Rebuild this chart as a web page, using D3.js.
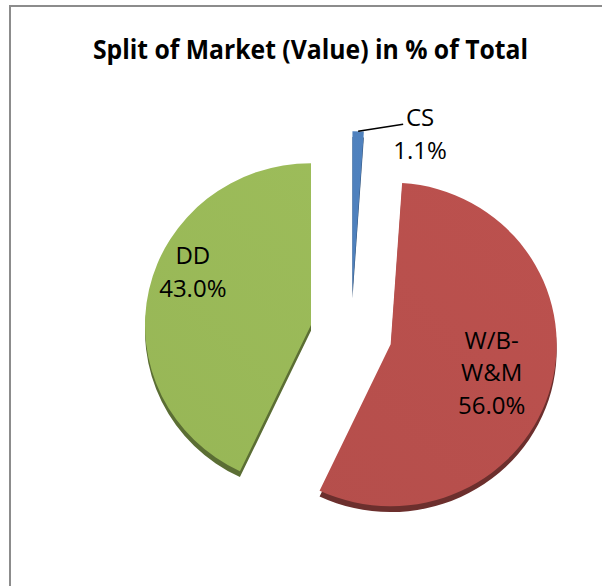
<!DOCTYPE html>
<html>
<head>
  <meta charset="UTF-8">
  <style>
    body { margin: 0; background: #fff; }
    svg { display: block; }
  </style>
</head>
<body>
  <svg id="chart"></svg>
  <script src="https://d3js.org/d3.v7.min.js"></script>
  <script>
    // data
    const categories = ["CS", "W/B-\nW&M", "DD"];
    const values = [1.1, 56.0, 43.0];
    const colors = ["#4f81bd", "#b9504d", "#9bbb59"];

    let width = 602, height = 586;

    let svg = d3.select("#chart")
      .attr("width", width)
      .attr("height", height);

    // chart frame (right/bottom edges fall outside the picture)
    svg.append("rect")
      .attr("x", 10).attr("y", 6)
      .attr("width", 700).attr("height", 700)
      .attr("fill", "#fff")
      .attr("stroke", "#8c8c8c")
      .attr("stroke-width", 2);

    svg.append("text")
      .attr("x", 310.5).attr("y", 59)
      .attr("text-anchor", "middle")
      .attr("font-family", "Open Sans, sans-serif")
      .attr("font-weight", "bold")
      .attr("font-size", 26)
      .attr("textLength", 435)
      .attr("lengthAdjust", "spacingAndGlyphs")
      .attr("fill", "#000")
      .text("Split of Market (Value) in % of Total");

    let cx = 351, cy = 334, r = 166, explode = 41, depth = 6;

    let pie = d3.pie().sort(null).value(d => d);
    let arcs = pie(values);
    let arc = d3.arc().innerRadius(0).outerRadius(r);

    let defs = svg.append("defs");
    arcs.forEach((a, i) => {
      let base = d3.color(colors[i]);
      let g = defs.append("linearGradient")
        .attr("id", "grad" + i)
        .attr("gradientUnits", "userSpaceOnUse")
        .attr("x1", -r).attr("y1", r).attr("x2", r).attr("y2", -r);
      g.append("stop").attr("offset", "0%").attr("stop-color", base.darker(0.08));
      g.append("stop").attr("offset", "100%").attr("stop-color", base.brighter(0.05));
    });

    function offset(a) {
      let m = (a.startAngle + a.endAngle) / 2;
      return [cx + explode * Math.sin(m), cy - explode * Math.cos(m)];
    }

    let slices = svg.append("g").selectAll("g")
      .data(arcs)
      .enter()
      .append("g")
      .attr("transform", d => {
        let o = offset(d);
        return "translate(" + o[0] + "," + o[1] + ") scale(1,0.975)";
      });

    // side of the disc
    slices.append("path")
      .attr("d", arc)
      .attr("transform", "translate(0," + depth + ")")
      .attr("fill", (d, i) => d3.color(colors[i]).darker(1.5));

    // top face
    slices.append("path")
      .attr("d", arc)
      .attr("fill", (d, i) => "url(#grad" + i + ")");

    // labels
    let fmt = d3.format(".1f");
    let labelFont = "Open Sans, sans-serif";
    let lineH = 32.5;

    arcs.forEach((a, i) => {
      let o = offset(a);
      let m = (a.startAngle + a.endAngle) / 2;
      let lines = categories[i].split("\n").concat([fmt(a.data) + "%"]);
      let lx, ly;
      if (a.data < 5) {
        // small slice: label outside with leader line
        let px = o[0] + r * Math.sin(m), py = o[1] - r * 0.975 * Math.cos(m);
        svg.append("polyline")
          .attr("points", [[px, py], [px + 45, py - 7]].map(p => p.join(",")).join(" "))
          .attr("fill", "none")
          .attr("stroke", "#000")
          .attr("stroke-width", 1.5);
        lx = px + 62; ly = py - 5;
      } else {
        let lr = i === 1 ? 0.64 * r : 0.77 * r;
        let la = i === 1 ? m + 0.06 : m + 0.17;
        lx = o[0] + lr * Math.sin(la);
        ly = o[1] - lr * Math.cos(la) - (lines.length - 1) * lineH / 2 + 4;
      }
      let t = svg.append("text")
        .attr("text-anchor", "middle")
        .attr("font-family", labelFont)
        .attr("font-size", 24)
        .attr("fill", "#000");
      lines.forEach((s, k) => {
        t.append("tspan")
          .attr("x", lx)
          .attr("y", ly + k * lineH)
          .text(s);
      });
    });
  </script>
</body>
</html>
